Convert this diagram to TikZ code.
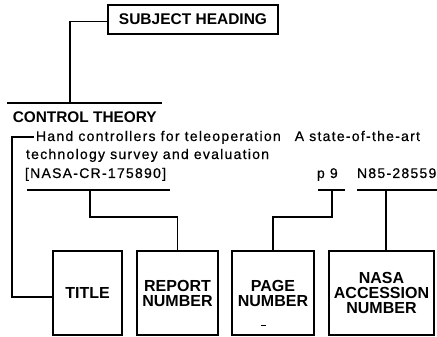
\documentclass[tikz,border=0pt]{standalone}
\usepackage{fontspec}
\setmainfont{Liberation Sans}
\newfontfamily\bodyfont[LetterSpace=9, FakeBold=0.6]{Liberation Sans}
\begin{document}
\begin{tikzpicture}[x=1pt,y=-1pt,
  every path/.style={line width=1.5pt},
  boxlabel/.style={draw, line width=1.5pt, inner sep=0pt, outer sep=0pt, align=center,
    font=\fontsize{16}{15}\selectfont\bfseries},
  headbox/.style={draw, line width=1.5pt, inner sep=0pt, outer sep=0pt,
    font=\fontsize{15.5}{18}\selectfont\bfseries},
  bodytext/.style={anchor=base west, inner xsep=2pt, inner ysep=0pt, outer sep=0pt,
    font=\bodyfont\fontsize{14}{18}\selectfont},
  headtext/.style={anchor=base west, inner sep=0pt, font=\fontsize{15.4}{18}\selectfont\bfseries}]
\useasboundingbox (0,0) rectangle (437,337);

% subject heading
\node[headbox, minimum width=170pt, minimum height=29pt] (subj) at (193,19.5) {SUBJECT HEADING};
\coordinate (rulea) at (7,103);
\coordinate (ruleb) at (162,103);
\coordinate (rulej) at (70,103);
\draw (rulea) -- (ruleb);
\draw ([yshift=-2pt]subj.west) -| (rulej);
\node[headtext] (ct) at (12,122) {CONTROL THEORY};

% citation lines
\node[bodytext] (line1) at (34,141) {Hand controllers for teleoperation\hspace{14pt}A state-of-the-art};
\node[bodytext] (line2) at (24,159) {technology survey and evaluation};
\node[bodytext] (line3) at (23,178) {[NASA-CR-175890]};
\node[bodytext] (pg) at (315,178) {p 9};
\node[bodytext] (acc) at (355,178) {N85-28559};

% boxes
\node[boxlabel, minimum width=69pt, minimum height=84pt] (title) at (87.5,293) {TITLE};
\node[boxlabel, minimum width=81pt, minimum height=84pt] (report) at (177.5,293) {REPORT\\NUMBER};
\node[boxlabel, minimum width=82pt, minimum height=84pt] (page) at (273,293) {PAGE\\NUMBER};
\node[boxlabel, minimum width=105pt, minimum height=84pt] (nasa) at (381.5,293) {NASA\\ACCESSION\\NUMBER};

% title connector
\coordinate (tcorner) at (12,137);
\draw (line1.west |- tcorner) -- (tcorner) |- ([yshift=-4pt]title.west);

% report number connector
\coordinate (u1a) at (27,190);
\coordinate (u1b) at (170,190);
\coordinate (j1) at (90,190);
\coordinate (k1) at (90,217);
\draw (u1a) -- (u1b);
\draw (j1) -- (k1) -| (report.north);

% page number connector
\coordinate (u2a) at (318,190);
\coordinate (u2b) at (345,190);
\coordinate (j2) at (332,190);
\coordinate (k2) at (332,217);
\draw (u2a) -- (u2b);
\draw (j2) -- (k2) -| (page.north);

% accession number connector
\coordinate (u3a) at (357,190);
\coordinate (u3b) at (437,190);
\coordinate (j3) at (386,190);
\draw (u3a) -- (u3b);
\draw (j3) -- (j3 |- nasa.north);

% small mark inside page box
\draw[line width=1pt] ([xshift=-12pt,yshift=10pt]page.south) -- ++(5,0);
\end{tikzpicture}
\end{document}
